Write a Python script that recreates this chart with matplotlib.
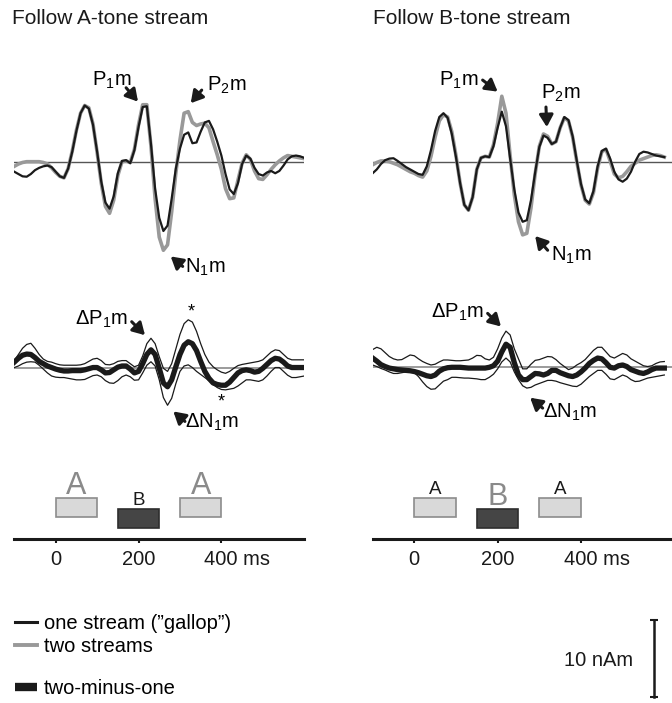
import matplotlib.pyplot as plt
import matplotlib.transforms as mtransforms
import numpy as np
from matplotlib.lines import Line2D

plt.rcParams["font.family"] = ["Liberation Sans", "DejaVu Sans"]
plt.rcParams["mathtext.fontset"] = "custom"
plt.rcParams["mathtext.rm"] = "Liberation Sans"
plt.rcParams["lines.solid_joinstyle"] = "round"

# --- data (nAm), one sample every 10 ms from -100 to 600 ms ---
time_ms = np.arange(-100, 601, 10)

# Follow A-tone stream: source waveforms
left_one = [-1.3, -1.6, -1.9, -1.95, -1.6, -1.1, -0.8, -0.6, -0.5, -0.7,
            -1.3, -1.9, -2.1, -0.9, 1.3, 4.0, 6.3, 7.3, 6.9, 4.8,
            1.3, -2.6, -5.3, -6.1, -4.5, -1.5, 0.1, 0.2, -0.2, 1.5,
            4.5, 7.1, 7.2, 2.3, -3.5, -7.3, -9.0, -8.3, -4.8, -0.9,
            1.7, 3.5, 3.8, 2.4, 2.5, 3.9, 5.1, 5.3, 4.2, 2.6,
            0.8, -1.6, -3.6, -4.2, -2.8, -0.3, 0.8, 0.4, -0.8, -1.6,
            -1.8, -1.4, -1.2, -1.5, -1.2, -0.5, 0.3, 0.7, 0.8, 0.7,
            0.5]
left_two = [-0.6, -0.3, -0.1, 0.0, 0.0, 0.0, 0.0, -0.1, -0.3, -0.8,
            -1.4, -1.9, -2.1, -0.9, 1.4, 4.1, 6.3, 7.3, 7.0, 4.9,
            1.2, -2.8, -5.8, -6.7, -5.0, -1.8, 0.0, 0.1, -0.1, 1.6,
            4.8, 7.4, 7.4, 2.0, -4.8, -9.8, -11.5, -10.8, -6.5, -1.5,
            2.8, 6.3, 6.5, 5.1, 4.7, 4.9, 5.0, 4.4, 2.6, 0.9,
            -1.0, -3.5, -4.8, -4.7, -2.4, -0.2, 0.9, 0.3, -1.2, -2.2,
            -2.3, -1.7, -1.0, -0.4, 0.1, 0.5, 0.8, 0.7, 0.6, 0.5,
            0.4]

# Follow B-tone stream: source waveforms
right_one = [-1.5, -1.0, -0.3, 0.2, 0.4, 0.45, 0.1, -0.3, -0.7, -1.0,
             -1.3, -1.6, -1.7, -0.6, 1.5, 4.0, 5.8, 6.3, 5.7, 3.6,
             0.6, -2.8, -5.6, -6.3, -4.6, -1.0, 0.5, 0.7, 0.6, 2.0,
             4.4, 6.5, 4.6, 0.4, -3.6, -6.6, -7.8, -7.6, -5.0, -1.4,
             1.9, 3.4, 3.1, 2.3, 2.6, 4.4, 5.8, 5.4, 3.3, 0.1,
             -2.9, -4.9, -5.4, -3.8, -0.6, 1.4, 1.7, 0.4, -1.3, -2.3,
             -2.6, -2.2, -1.3, 0.0, 1.0, 1.3, 1.2, 1.0, 0.8, 0.7,
             0.6]
right_two = [-0.4, -0.1, 0.1, 0.1, 0.0, -0.2, -0.4, -0.7, -1.0, -1.3,
             -1.5, -1.8, -2.0, -1.2, 0.7, 3.2, 5.3, 6.1, 5.8, 3.9,
             0.8, -2.8, -5.6, -6.3, -4.6, -1.0, 0.5, 0.7, 0.6, 2.2,
             5.0, 8.5, 6.3, 0.8, -4.3, -7.8, -9.5, -9.3, -6.0, -1.6,
             2.0, 3.6, 3.3, 2.3, 2.6, 4.4, 5.7, 5.3, 3.2, 0.0,
             -3.0, -5.0, -5.5, -4.0, -0.8, 1.3, 1.6, 0.1, -1.6, -2.1,
             -1.9, -1.3, -0.6, -0.2, 0.2, 0.4, 0.6, 0.8, 0.9, 0.8,
             0.6]

# two-minus-one difference waves with upper / lower bounds
left_diff = [0.8, 1.3, 1.7, 1.85, 1.8, 1.4, 0.9, 0.6, 0.3, 0.1,
             -0.1, -0.25, -0.35, -0.35, -0.3, -0.3, -0.3, -0.2, -0.05, 0.1,
             0.1, -0.2, -0.6, -0.55, -0.2, 0.15, 0.3, 0.3, -0.1, -0.6,
             -0.4, 0.6, 1.8, 2.4, 1.8, 0.0, -1.9, -2.4, -1.5, 0.2,
             1.8, 3.0, 3.45, 3.2, 2.3, 0.9, -0.4, -1.3, -1.9, -2.1,
             -2.2, -2.2, -1.8, -1.2, -0.6, -0.3, -0.2, -0.3, -0.5, -0.4,
             0.0, 0.5, 1.0, 1.3, 1.2, 0.8, 0.3, 0.1, 0.1, 0.1,
             0.1]
left_diff_hi = [1.0, 1.8, 2.6, 3.1, 3.25, 2.6, 1.8, 1.2, 0.9, 0.8,
                0.6, 0.45, 0.4, 0.4, 0.4, 0.4, 0.45, 0.6, 0.9, 1.2,
                1.3, 1.0, 0.5, 0.45, 0.6, 0.9, 1.0, 1.0, 0.6, 0.2,
                0.4, 1.6, 3.2, 3.9, 3.2, 1.5, 0.0, -0.4, 0.6, 2.5,
                4.4, 5.8, 6.3, 6.0, 4.8, 3.2, 1.8, 0.8, 0.2, -0.2,
                -0.5, -0.65, -0.4, 0.0, 0.35, 0.5, 0.6, 0.7, 0.8, 0.9,
                1.1, 1.6, 2.1, 2.4, 2.3, 1.8, 1.3, 1.1, 1.1, 1.1,
                1.1]
left_diff_lo = [0.1, 0.3, 0.6, 0.8, 0.85, 0.8, 0.4, -0.1, -0.6, -1.0,
                -1.15, -1.2, -1.2, -1.3, -1.4, -1.5, -1.5, -1.45, -1.2, -0.95,
                -0.87, -1.1, -1.6, -1.9, -1.95, -1.6, -1.1, -0.87, -1.1, -1.55,
                -1.5, -0.6, 0.4, 0.85, 0.3, -1.5, -3.8, -4.8, -3.9, -2.0,
                -0.4, 0.3, 0.45, 0.1, -0.4, -0.8, -1.2, -1.6, -2.1, -2.5,
                -2.75, -2.8, -2.7, -2.6, -2.3, -1.9, -1.5, -1.5, -1.6, -1.7,
                -1.5, -1.0, -0.4, 0.1, 0.1, -0.4, -0.9, -1.2, -1.2, -1.1,
                -1.0]
right_diff = [1.2, 0.8, 0.35, 0.1, -0.1, -0.2, -0.3, -0.35, -0.4, -0.45,
              -0.55, -0.7, -0.9, -1.1, -1.2, -1.0, -0.5, -0.2, -0.05, 0.0,
              0.0, 0.0, -0.05, -0.1, -0.1, -0.1, -0.1, -0.1, 0.0, 0.2,
              0.8, 2.0, 3.0, 2.6, 0.6, -1.0, -1.6, -1.6, -1.2, -0.8,
              -0.85, -1.0, -0.8, -0.4, -0.4, -0.7, -0.9, -1.1, -1.2, -1.0,
              -0.6, -0.1, 0.5, 0.9, 1.2, 1.1, 0.6, 0.0, -0.1, 0.2,
              0.3, 0.1, -0.3, -0.5, -0.7, -0.8, -0.6, -0.3, -0.1, -0.1,
              -0.1]
right_diff_hi = [2.3, 2.6, 2.4, 1.9, 1.4, 1.1, 0.95, 1.0, 1.3, 1.6,
                 1.5, 1.1, 0.75, 0.5, 0.3, 0.4, 0.7, 0.95, 0.95, 0.9,
                 0.85, 0.85, 0.9, 0.95, 1.2, 1.55, 1.5, 1.1, 0.95, 1.3,
                 2.4, 3.8, 4.7, 4.2, 2.4, 1.1, -0.2, -0.2, 0.4, 0.9,
                 1.0, 1.2, 1.4, 1.35, 1.0, 0.5, 0.1, -0.3, -0.1, 0.3,
                 0.6, 1.0, 1.6, 2.2, 2.6, 2.6, 2.0, 1.4, 1.2, 1.5,
                 1.8, 1.6, 1.1, 0.8, 0.5, 0.2, 0.1, 0.2, 0.5, 0.7,
                 0.75]
right_diff_lo = [0.3, 0.1, -0.15, -0.35, -0.6, -0.8, -0.8, -0.7, -0.6, -0.55,
                 -0.7, -1.2, -1.9, -2.5, -2.85, -2.8, -2.3, -1.8, -1.6, -1.3,
                 -1.3, -1.35, -1.4, -1.4, -1.45, -1.5, -1.6, -1.6, -1.3, -0.9,
                 -0.2, 0.7, 1.2, 0.7, -0.6, -1.6, -2.4, -2.7, -2.6, -2.3,
                 -2.1, -1.9, -1.7, -1.7, -1.8, -2.0, -2.15, -2.3, -2.45, -2.5,
                 -2.2, -1.7, -1.2, -0.8, -0.4, -0.4, -0.9, -1.5, -1.6, -1.3,
                 -1.0, -1.2, -1.6, -1.85, -1.8, -1.6, -1.4, -1.3, -1.2, -1.1,
                 -1.0]

# stimulus sequence (ABA triplet)
tones = ["A", "B", "A"]
tone_onsets = [0, 150, 300]
tone_dur = 100
time_ticks = [0, 200, 400]
time_tick_labels = ["0", "200", "400 ms"]
scale_nam = 10

legend_labels = ["one stream (\u201dgallop\u201d)", "two streams"]
diff_label = "two-minus-one"
titles = ["Follow A-tone stream", "Follow B-tone stream"]

# --- layout (pixels of the 672 x 703 figure) ---
W, H = 672, 703
PX_NAM = 7.7
FS = 14.5
BLACK = "#1a1a1a"
GRAY = "#999999"

fig = plt.figure(figsize=(W / 100, H / 100), dpi=100)


def panel(x_zero, px_ms, t_hi, base_y, v_lo, v_hi, px_unit=PX_NAM, t_lo=-100):
    x0 = x_zero + t_lo * px_ms
    x1 = x_zero + t_hi * px_ms
    y_top = base_y - v_hi * px_unit
    y_bot = base_y - v_lo * px_unit
    ax = fig.add_axes([x0 / W, 1 - y_bot / H, (x1 - x0) / W, (y_bot - y_top) / H])
    ax.set_xlim(t_lo, t_hi)
    ax.set_ylim(v_lo, v_hi)
    ax.axis("off")
    return ax


def arrow(ax, tip, tail):
    ax.annotate("", xy=tip, xytext=tail,
                arrowprops=dict(arrowstyle="-|>,head_length=0.55,head_width=0.32",
                                lw=2.2, color=BLACK, mutation_scale=13,
                                shrinkA=0, shrinkB=0))


def sub(name):
    return name + r"$_\mathregular{1}$m" if name != "P2" else r"P$_\mathregular{2}$m"


columns = [
    dict(x_zero=55.7, px_ms=0.4142, t_hi=600, top_base=161.7, diff_base=368.3,
         one=left_one, two=left_two, diff=left_diff, hi=left_diff_hi, lo=left_diff_lo,
         attended="A", title_x=12,
         top_labels=[("P", (88, 10.6), (198.7, 7.8), (170, 9.6)),
                     ("P2", (365, 9.9), (326, 7.6), (352.5, 9.3)),
                     ("N", (312, -13.7), (277.6, -12.3), (306.6, -13.6))],
         diff_labels=[("\u0394P", (46, 6.3), (215.6, 4.3), (183.5, 6.05)),
                      ("\u0394N", (312, -7.0), (284, -5.6), (312, -6.9))],
         stars=[(328, 7.3), (400, -4.4)]),
    dict(x_zero=414.3, px_ms=0.4167, t_hi=618, top_base=161.7, diff_base=367.3,
         one=right_one, two=right_two, diff=right_diff, hi=right_diff_hi, lo=right_diff_lo,
         attended="B", title_x=373,
         top_labels=[("P", (59, 10.6), (200, 9.1), (164, 10.6)),
                     ("P2", (304, 8.9), (318, 4.5), (316, 7.1)),
                     ("N", (328, -12.1), (290, -9.65), (320, -11.5))],
         diff_labels=[("\u0394P", (40, 7.2), (208, 5.3), (176, 7.0)),
                      ("\u0394N", (308, -5.9), (278, -3.95), (308, -5.3))],
         stars=[]),
]

for i, col in enumerate(columns):
    fig.text(col["title_x"] / W, 1 - 18 / H, titles[i],
             fontsize=15, va="center", ha="left", color=BLACK)

    # source waveforms
    ax = panel(col["x_zero"], col["px_ms"], col["t_hi"], col["top_base"], -16, 12.5)
    ax.axhline(0, color="#555555", lw=1.0, zorder=1)
    ax.plot(time_ms, col["two"], color=GRAY, lw=2.6, zorder=2)
    ax.plot(time_ms, col["one"], color=BLACK, lw=1.6, zorder=3)
    for name, pos, tip, tail in col["top_labels"]:
        ax.text(pos[0], pos[1], sub(name), fontsize=FS, ha="left", va="center")
        arrow(ax, tip, tail)

    # difference waves
    ax = panel(col["x_zero"], col["px_ms"], col["t_hi"], col["diff_base"], -8, 7.5)
    ax.axhline(0, color="#8a8a8a", lw=1.2, zorder=1)
    ax.plot(time_ms, col["hi"], color=BLACK, lw=0.9, zorder=2)
    ax.plot(time_ms, col["lo"], color=BLACK, lw=0.9, zorder=2)
    ax.plot(time_ms, col["diff"], color=BLACK, lw=3.8, zorder=3)
    for name, pos, tip, tail in col["diff_labels"]:
        ax.text(pos[0], pos[1], sub(name), fontsize=FS, ha="left", va="center")
        arrow(ax, tip, tail)
    for sx, sy in col["stars"]:
        ax.text(sx, sy, "*", fontsize=13, ha="center", va="center")

    # stimulus boxes and time axis
    ax = panel(col["x_zero"], col["px_ms"], col["t_hi"], 539, 0, 75, px_unit=1)
    ax.axis("on")
    for side in ("top", "left", "right"):
        ax.spines[side].set_visible(False)
    ax.spines["bottom"].set_linewidth(2.2)
    ax.spines["bottom"].set_color(BLACK)
    ax.set_yticks([])
    ax.set_xticks(time_ticks)
    ax.set_xticklabels(time_tick_labels)
    ax.tick_params(axis="x", direction="out", length=3, width=1.5, pad=5,
                   labelsize=FS, colors=BLACK)
    # keep the number centred on its tick, the unit hangs to the right
    last = ax.get_xticklabels()[-1]
    last.set_transform(last.get_transform() +
                       mtransforms.ScaledTranslation(16 / 100, 0, fig.dpi_scale_trans))
    for tone, onset in zip(tones, tone_onsets):
        is_b = tone == "B"
        bottom = 11.3 if is_b else 22.3
        ax.bar(onset, 19, width=tone_dur, bottom=bottom, align="edge",
               color="#454545" if is_b else "#d9d9d9",
               edgecolor="#2e2e2e" if is_b else "#8c8c8c", lw=1.2)
        big = tone == col["attended"]
        ax.text(onset + tone_dur / 2, bottom + 19 + 3.5, tone, ha="center",
                va="baseline", fontsize=22 if big else 13.5,
                color="#8a8a8a" if big else BLACK)

# legend
leg_handles = [Line2D([], [], color=BLACK, lw=2.2), Line2D([], [], color=GRAY, lw=2.8)]
fig.legend(leg_handles, legend_labels, loc="upper left",
           bbox_to_anchor=(15 / W, 1 - 614 / H), frameon=False, fontsize=FS,
           handlelength=1.1, handletextpad=0.35, labelspacing=0.2,
           borderpad=0, borderaxespad=0)
fig.legend([Line2D([], [], color=BLACK, lw=6, solid_capstyle="butt")], [diff_label],
           loc="upper left", bbox_to_anchor=(15 / W, 1 - 679 / H), frameon=False,
           fontsize=FS, handlelength=1.1, handletextpad=0.35,
           borderpad=0, borderaxespad=0)

# scale bar
ax = panel(644, 1, 664 - 644, 697, -0.78, 11.3, t_lo=0)
ax.set_xlim(0, 20)
ax.plot([10, 10], [0, scale_nam], color=BLACK, lw=1.8, marker="_", ms=6, mew=1.5)
fig.text(633 / W, 1 - 660 / H, f"{scale_nam} nAm", fontsize=FS, ha="right",
         va="center", color=BLACK)

fig.savefig("out.png", dpi=100)
